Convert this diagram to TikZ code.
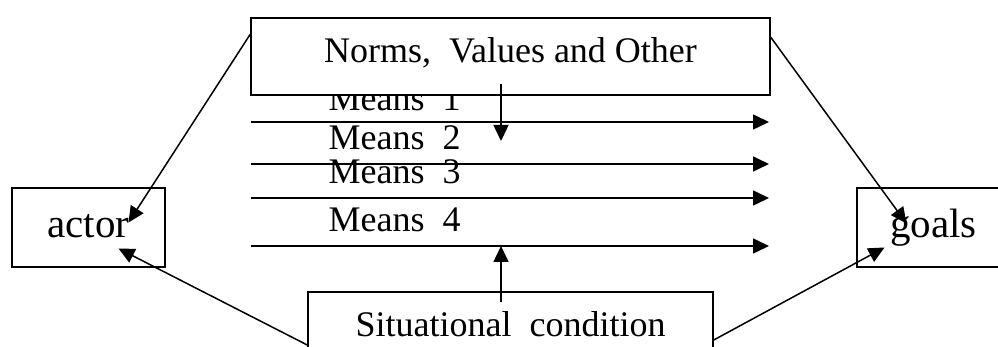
\documentclass[tikz,border=0pt]{standalone}
\usepackage{fontspec}
\setmainfont{Liberation Serif}
\usetikzlibrary{arrows.meta}

\tikzset{
  box/.style={draw, line width=1.5pt, fill=white, inner sep=0pt},
  conn/.style={line width=1.5pt, -{Triangle[length=16pt,width=15pt]}},
}

\begin{document}
\begin{tikzpicture}[x=1pt, y=1pt, font=\fontsize{36}{40}\selectfont]
      \useasboundingbox (0,0) rectangle (998,347);
      \clip (0,0) rectangle (998,347);

      % Means
      \node[anchor=base west] (m1) at (325,236) {Means\ \ 1};
      \node[anchor=base west] (m2) at (325,197) {Means\ \ 2};
      \node[anchor=base west] (m3) at (325,163) {Means\ \ 3};
      \node[anchor=base west] (m4) at (325,115) {Means\ \ 4};

      \foreach \n/\y in {1/225,2/183,3/149,4/101} {
        \coordinate (ms\n) at (251,\y);
        \coordinate (me\n) at (769,\y);
        \draw[conn] (ms\n) -- (me\n);
    }

      \node[box, minimum width=519pt, minimum height=77pt, text height=25pt, text depth=12pt]
        (norms) at (510.5,290.5) {Norms,\ \ Values and Other};
      \node[box, minimum width=153pt, minimum height=79pt, text height=24pt, text depth=3pt,
        font=\fontsize{41}{45}\selectfont] (actor) at (88.5,119.5) {actor};
      \node[box, minimum width=153pt, minimum height=79pt, text height=24pt, text depth=3pt,
        font=\fontsize{41}{45}\selectfont] (goals) at (933.5,119.5) {goals};
      \node[box, minimum width=405pt, minimum height=78pt, text height=25pt, text depth=13pt]
        (situ) at (510.5,16) {Situational\ \ condition};

      % 矢印
      \coordinate (nb) at (501,206);
      \coordinate (su) at (501,101);
      \draw[conn] ([shift={(-9.5pt,12pt)}]norms.south) -- (nb);
      \draw[conn] ([shift={(-9.5pt,-11pt)}]situ.north) -- (su);

      \draw[conn] ([yshift=-17pt]norms.north west) -- ([shift={(40pt,5pt)}]actor.center);
      \draw[conn] ([yshift=-14pt]situ.west) -- ([shift={(30pt,-21pt)}]actor.center);
      \draw[conn] ([yshift=-20pt]norms.north east) -- ([shift={(-27pt,4pt)}]goals.center);
      \draw[conn] ([yshift=-9pt]situ.east) -- ([shift={(-49pt,-20pt)}]goals.center);
  \end{tikzpicture}
\end{document}
